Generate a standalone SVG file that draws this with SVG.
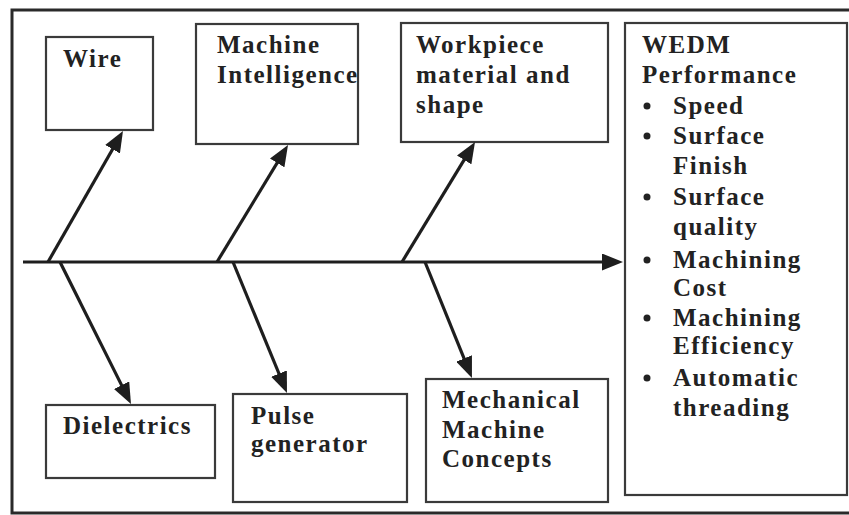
<svg xmlns="http://www.w3.org/2000/svg" width="849" height="515" viewBox="0 0 849 515">
  <defs>
    <marker id="head" markerUnits="userSpaceOnUse" markerWidth="21" markerHeight="17" refX="15" refY="8.5" orient="auto">
      <path d="M0,0 L21,8.5 L0,17 z" fill="#1e1e1e"/>
    </marker>
    <style>
      .frame { fill: none; stroke: #2a2a2a; stroke-width: 3; }
      .box { fill: #fff; stroke: #3a3a3a; stroke-width: 2.2; }
      .lbl { font-family: "Liberation Serif", "Times New Roman", serif; font-weight: bold; font-size: 25px; letter-spacing: 1.5px; fill: #222; }
      .conn line { stroke: #1e1e1e; stroke-width: 3.2; marker-end: url(#head); }
      .dot { fill: #222; }
    </style>
  </defs>

  <rect width="849" height="515" fill="#fff"/>
  <!-- outer border -->
  <rect class="frame" x="12" y="10" width="850" height="503"/>

  <!-- cause boxes -->
  <g id="wire">
    <rect class="box" x="46" y="37" width="107" height="93"/>
    <text class="lbl" x="63" y="67">Wire</text>
  </g>
  <g id="machine-intelligence">
    <rect class="box" x="196" y="24" width="162" height="120"/>
    <text class="lbl" x="217" y="53">Machine</text>
    <text class="lbl" x="217" y="83">Intelligence</text>
  </g>
  <g id="workpiece">
    <rect class="box" x="401" y="23" width="207" height="119"/>
    <text class="lbl" x="416" y="53">Workpiece</text>
    <text class="lbl" x="416" y="83">material and</text>
    <text class="lbl" x="416" y="113">shape</text>
  </g>
  <g id="dielectrics">
    <rect class="box" x="46" y="405" width="169" height="73"/>
    <text class="lbl" x="63" y="434">Dielectrics</text>
  </g>
  <g id="pulse-generator">
    <rect class="box" x="233" y="394" width="174" height="108"/>
    <text class="lbl" x="251" y="424">Pulse</text>
    <text class="lbl" x="251" y="452">generator</text>
  </g>
  <g id="mechanical">
    <rect class="box" x="426" y="379" width="182" height="123"/>
    <text class="lbl" x="442" y="408">Mechanical</text>
    <text class="lbl" x="442" y="438">Machine</text>
    <text class="lbl" x="442" y="467">Concepts</text>
  </g>

  <!-- effect box -->
  <g id="wedm-performance">
    <rect class="box" x="625" y="23" width="222" height="472"/>
    <text class="lbl" x="642" y="53">WEDM</text>
    <text class="lbl" x="642" y="83">Performance</text>
    <circle class="dot" cx="647" cy="106" r="3.5"/>
    <text class="lbl" x="673" y="114">Speed</text>
    <circle class="dot" cx="647" cy="136" r="3.5"/>
    <text class="lbl" x="673" y="144">Surface</text>
    <text class="lbl" x="673" y="174">Finish</text>
    <circle class="dot" cx="647" cy="197" r="3.5"/>
    <text class="lbl" x="673" y="205">Surface</text>
    <text class="lbl" x="673" y="235">quality</text>
    <circle class="dot" cx="647" cy="260" r="3.5"/>
    <text class="lbl" x="673" y="268">Machining</text>
    <text class="lbl" x="673" y="296">Cost</text>
    <circle class="dot" cx="647" cy="318" r="3.5"/>
    <text class="lbl" x="673" y="326">Machining</text>
    <text class="lbl" x="673" y="354">Efficiency</text>
    <circle class="dot" cx="647" cy="378" r="3.5"/>
    <text class="lbl" x="673" y="386">Automatic</text>
    <text class="lbl" x="673" y="416">threading</text>
  </g>

  <!-- spine and branch arrows -->
  <g id="connectors" class="conn">
    <line x1="23" y1="262" x2="617" y2="262"/>
    <line x1="48" y1="262" x2="120" y2="136.2"/>
    <line x1="217" y1="262" x2="284.9" y2="150.1"/>
    <line x1="402" y1="262" x2="471.9" y2="147.1"/>
    <line x1="60" y1="262" x2="128.3" y2="398.6"/>
    <line x1="233" y1="262" x2="284.7" y2="387.5"/>
    <line x1="425" y1="262" x2="469.7" y2="372.4"/>
  </g>
</svg>
